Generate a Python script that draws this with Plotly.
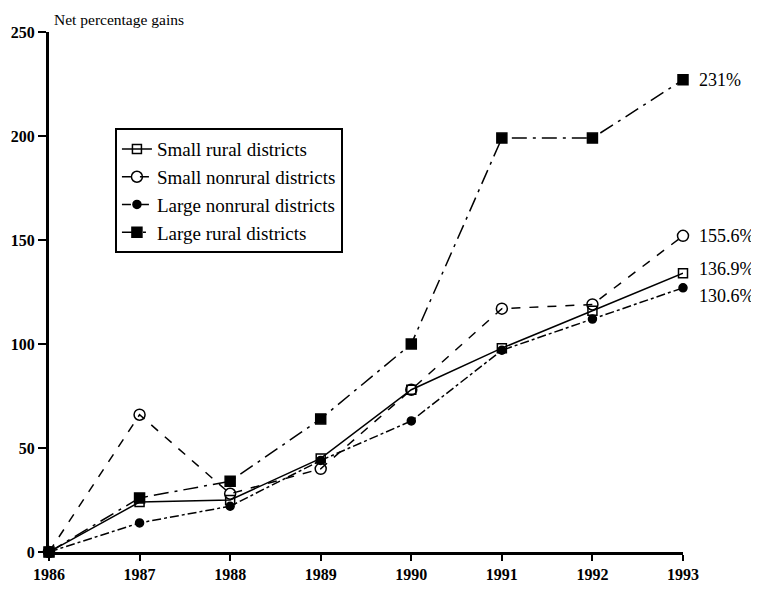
import plotly.graph_objects as go

years = [1986, 1987, 1988, 1989, 1990, 1991, 1992, 1993]
small_rural = [0, 24, 25, 45, 78, 98, 116, 134]
small_nonrural = [0, 66, 28, 40, 78, 117, 119, 152]
large_nonrural = [0, 14, 22, 44, 63, 97, 112, 127]
large_rural = [0, 26, 34, 64, 100, 199, 199, 227]
end_labels = ["136.9%", "155.6%", "130.6%", "231%"]
names = ["Small rural districts", "Small nonrural districts",
         "Large nonrural districts", "Large rural districts"]
y_ticks = [0, 50, 100, 150, 200, 250]

FONT = "Liberation Serif"
fig = go.Figure()

series = [
    (small_rural, "square-open", "solid", 9),
    (small_nonrural, "circle-open", "dash", 11),
    (large_nonrural, "circle", "dashdot", 8),
    (large_rural, "square", "longdashdot", 10),
]
for (vals, sym, dash, size), name in zip(series, names):
    fig.add_trace(go.Scatter(
        x=years, y=vals, name=name, mode="lines+markers", cliponaxis=False,
        line=dict(color="black", width=1.5, dash=dash),
        marker=dict(symbol=sym, size=size, color="black",
                    line=dict(color="black", width=1.5)),
    ))

shifts = [4, 0, -8, 0]
for vals, lab, ys in zip([small_rural, small_nonrural, large_nonrural, large_rural], end_labels, shifts):
    fig.add_annotation(x=years[-1], y=vals[-1], text=lab, showarrow=False,
                       xanchor="left", xshift=14, yshift=ys,
                       font=dict(family=FONT, size=18, color="black"))

fig.add_annotation(x=0, y=1, xref="paper", yref="paper", text="Net percentage gains",
                   showarrow=False, xanchor="left", yanchor="bottom", xshift=3, yshift=2,
                   font=dict(family=FONT, size=15.5, color="black"))

# page body has an 8px margin, so the figure is made 8px smaller and left/top margins shifted
fig.update_layout(
    width=751, height=581,
    margin=dict(l=41, r=76, t=24, b=37),
    paper_bgcolor="white", plot_bgcolor="white",
    font=dict(family=FONT, color="black"),
    showlegend=True,
    legend=dict(x=0.104, y=0.815, xanchor="left", yanchor="top",
                bordercolor="black", borderwidth=2, bgcolor="white",
                font=dict(family=FONT, size=19, color="black"),
                tracegroupgap=0, itemwidth=30),
)
fig.update_xaxes(range=[1986, 1993], tickvals=years, showgrid=False, zeroline=False,
                 automargin=False,
                 showline=True, linecolor="black", linewidth=3,
                 ticks="outside", ticklen=6, tickwidth=2, tickcolor="black",
                 tickfont=dict(family=FONT, size=16, color="black", weight="bold"))
fig.update_yaxes(range=[0, 250], tickvals=y_ticks, showgrid=False, zeroline=False,
                 automargin=False,
                 showline=True, linecolor="black", linewidth=3,
                 ticks="outside", ticklen=8, tickwidth=2, tickcolor="black",
                 tickfont=dict(family=FONT, size=16, color="black", weight="bold"))

fig.write_html("out.html")
